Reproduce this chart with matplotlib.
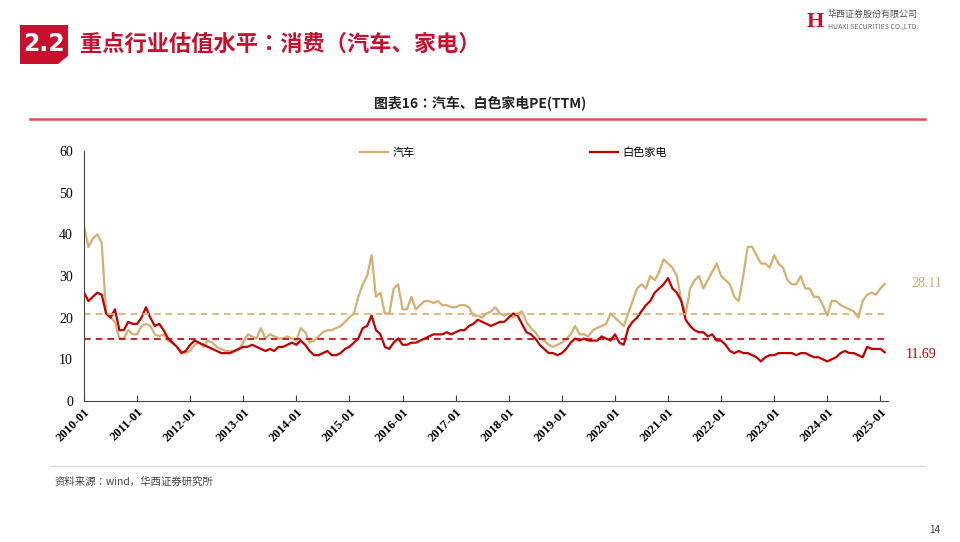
import numpy as np
import matplotlib
matplotlib.use("Agg")
import matplotlib.pyplot as plt
from matplotlib.patches import Polygon
from matplotlib import font_manager as fm

auto = [42,37,39,40,38,21,20,19,15,15,17,16,
        16,18,18.5,18,16,15.5,16,14.5,14,13,12,11.5,
        12,13.5,14,13,14.5,14,13,12.5,12,12,12,12.5,
        14,16,15.5,15,17.5,15,16,15.5,15,15,15.5,15,
        14.5,17.5,16.5,14,14.5,15.5,16.5,17,17,17.5,18,19,
        20,21,25,28,30,35,25,26,21,21,27,28,
        22,22,25,22,23,24,24,23.5,24,23,23,22.5,
        22.5,23,23,22.5,20.5,20.5,20,21,21.5,22.5,21,20.5,
        21,20,21,21.5,19,17.5,16.5,15,14.5,13.5,13,13.5,
        14,15,16,18,16,16,15.5,17,17.5,18,18.5,21,
        20,19,18,21,24,27,28,27,30,29,31,34,
        33,32,30,24,21,27,29,30,27,29,31,33,
        30,29,28,25,24,30,37,37,35,33,33,32,
        35,33,32,29,28,28,30,27,27,25,25,23,
        20.5,24,24,23,22.5,22,21.5,20,24,25.5,26,25.5,
        27,28.11]
appliance = [26,24,25,26,25.5,21,20,22,17,17,19,18.5,
        18.5,20,22.5,20,18,18.5,17,15,14,13,11.5,12,
        13.5,14.5,14,13.5,13,12.5,12,11.5,11.5,11.5,12,12.5,
        13,13,13.5,13,12.5,12,12.5,12,13,13,13.5,14,
        13.5,14.5,13.5,12,11,11,11.5,12,11,11,11.5,12.5,
        13,14,15,17.5,18,20.5,17,16,13,12.5,14,15,
        13.5,13.5,14,14,14.5,15,15.5,16,16,16,16.5,16,
        16.5,17,17,18,18.5,19.5,19,18.5,18,18.5,19,19,
        20,21,20.5,18.5,16.5,16,15,13.5,12.5,11.5,11.5,11,
        11.5,12.5,14,15,14.5,15,14.5,14.5,14.5,15.5,15,14.5,
        16,14,13.5,17.5,19,20,21.5,23,24,26,27,28,
        29.5,27,26,24,19.5,18,17,16.5,16.5,15.5,16,14.5,
        14.5,13.5,12,11.5,12,11.5,11.5,11,10.5,9.5,10.5,11,
        11,11.5,11.5,11.5,11.5,11,11.5,11.5,11,10.5,10.5,10,
        9.5,10,10.5,11.5,12,11.5,11.5,11,10.5,13,12.5,12.5,
        12.5,11.69]
auto_mean = 21.0
appl_mean = 14.8
years = list(range(2010, 2026))
xlabels = [f"{y}-01" for y in years]

t = 2010 + np.arange(len(auto)) / 12.0
C_AUTO = "#D5AE72"
C_APP = "#C00000"
serif = "Liberation Serif"
names = {f.name for f in fm.fontManager.ttflist}
cjk = next((n for n in ["Noto Sans CJK SC", "Noto Sans CJK JP", "Noto Sans CJK TC", "Noto Sans CJK KR"] if n in names), "DejaVu Sans")
plt.rcParams["font.sans-serif"] = [cjk, "DejaVu Sans"]

fig = plt.figure(figsize=(9.6, 5.42), dpi=100)
W, H = 960, 542
def fx(x): return x / W
def fy(y): return 1 - y / H

fig.patches.append(Polygon([[fx(20), fy(25)], [fx(68), fy(25)], [fx(68), fy(56)], [fx(58), fy(64)], [fx(20), fy(64)]],
                           closed=True, transform=fig.transFigure, facecolor="#C8102E", edgecolor="none"))
fig.text(fx(44), fy(44), "2.2", color="white", fontsize=17, fontweight="bold", ha="center", va="center", family="DejaVu Sans")
fig.text(fx(80), fy(44), "重点行业估值水平：消费（汽车、家电）", color="#C8102E", fontsize=16, fontweight="bold",
         ha="left", va="center", family=cjk)
fig.text(fx(824), fy(22), "H", color="#C8102E", fontsize=16, fontweight="bold", ha="right", va="center", family=serif)
fig.text(fx(828), fy(14), "华西证券股份有限公司", color="#555555", fontsize=6.5, ha="left", va="center", family=cjk)
fig.text(fx(828), fy(27), "HUAXI SECURITIES CO.,LTD.", color="#666666", fontsize=5, ha="left", va="center")
fig.text(fx(480), fy(103), "图表16：汽车、白色家电PE(TTM)", color="#222222", fontsize=10, fontweight="bold",
         ha="center", va="center", family=cjk)
fig.add_artist(plt.Line2D([fx(30), fx(925)], [fy(119), fy(119)], transform=fig.transFigure, color="#D9534F", lw=1.8))
fig.add_artist(plt.Line2D([fx(50), fx(925)], [fy(466), fy(466)], transform=fig.transFigure, color="#CCCCCC", lw=0.6))
fig.text(fx(55), fy(482), "资料来源：wind，华西证券研究所", color="#444444", fontsize=7.5, style="italic",
         ha="left", va="center", family=cjk)
fig.text(fx(935), fy(530), "14", color="#333333", fontsize=7, ha="center", va="center")

ax = fig.add_axes([fx(84), fy(401), (888 - 84) / W, (401 - 151) / H])
ax.plot(t, auto, color=C_AUTO, lw=1.6, label="汽车")
ax.plot(t, appliance, color=C_APP, lw=1.6, label="白色家电")
ax.axhline(auto_mean, color=C_AUTO, lw=1.2, ls=(0, (4, 3)))
ax.axhline(appl_mean, color=C_APP, lw=1.2, ls=(0, (4, 3)))
ax.set_xlim(2010, t[-1] + 0.06)
ax.set_ylim(0, 60)
ax.set_yticks(range(0, 61, 10))
ax.set_xticks(years)
ax.set_xticklabels(xlabels, rotation=45, ha="right", rotation_mode="anchor", fontsize=9, family=serif, fontweight="bold")
for lab in ax.get_yticklabels():
    lab.set_family(serif); lab.set_fontsize(10)
ax.tick_params(axis="x", direction="in", length=4, color="#444444")
ax.tick_params(axis="y", length=0, pad=8)
for s in ["top", "right"]:
    ax.spines[s].set_visible(False)
for s in ["left", "bottom"]:
    ax.spines[s].set_color("#444444")

ax.text(t[-1] + 0.5, auto[-1], f"{auto[-1]:.2f}", color=C_AUTO, fontsize=10, family=serif, va="center", ha="left")
ax.text(t[-1] + 0.4, appliance[-1] - 0.5, f"{appliance[-1]:.2f}", color=C_APP, fontsize=10, family=serif, va="center", ha="left")

h1, h2 = ax.get_lines()[:2]
fig.legend([h1], ["汽车"], loc="center left", bbox_to_anchor=(fx(350), fy(153)), frameon=False,
           prop={"family": cjk, "size": 8}, handlelength=2.5, handletextpad=0.4)
fig.legend([h2], ["白色家电"], loc="center left", bbox_to_anchor=(fx(580), fy(153)), frameon=False,
           prop={"family": cjk, "size": 8}, handlelength=2.5, handletextpad=0.4)

fig.savefig("out.png", dpi=100, facecolor="white")
